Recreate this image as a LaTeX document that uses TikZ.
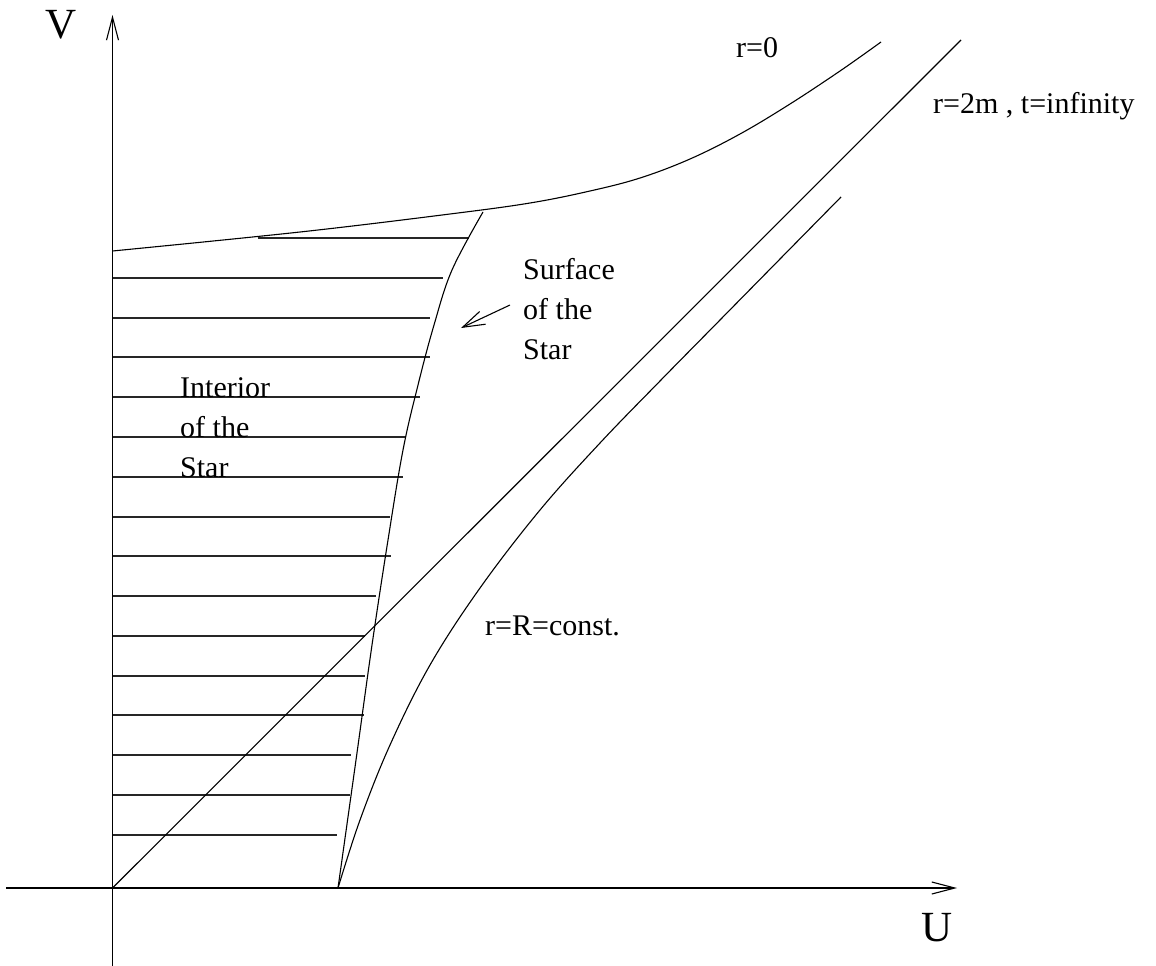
\documentclass[tikz,border=0pt]{standalone}
\usepackage{fontspec}
\setmainfont{Liberation Serif}
\usetikzlibrary{arrows.meta}
\begin{document}
\begin{tikzpicture}[x=1pt,y=-1pt,
  line/.style={line width=1.1pt, line join=round, line cap=butt},
  hatch/.style={line width=1.2pt, black!85},
  lbl/.style={font=\fontsize{30}{36}\selectfont, inner sep=0pt, anchor=base west},
  axlbl/.style={font=\fontsize{43}{50}\selectfont, inner sep=0pt},
  axarrow/.style={-{Straight Barb[length=23pt,width=12pt,line width=1.1pt]}},
  ptarrow/.style={-{Straight Barb[length=22pt,width=14pt,line width=1.1pt]}},
]
\useasboundingbox (0,0) rectangle (1156,966);
% axes
\coordinate (vbot) at (112.5,966);
\coordinate (vtop) at (112.5,15);
\coordinate (uleft) at (6,888);
\coordinate (uright) at (957,888);
\coordinate (o) at (112.5,888);
\coordinate (s0) at (338,888);
\coordinate (ua) at (86,888);
\coordinate (ub) at (391,888);
\draw[line, axarrow] (vbot) -- (vtop);
\draw[line, axarrow] (uleft) -- (uright);
\draw[line width=1.7pt] (ua) -- (ub);
\node[axlbl] (V) at (61.5,25) {V};
\node[axlbl] (U) at (937,927.5) {U};
% hatching
\foreach \y/\xs/\xe in {238/258/469, 278/112.5/443, 318/112.5/430, 357/112.5/430,
  397/112.5/420, 437/112.5/405, 477/112.5/403, 517/112.5/390, 556/112.5/391,
  596/112.5/376, 636/112.5/365, 676/112.5/365, 715/112.5/364, 755/112.5/351,
  795/112.5/350, 835/112.5/337}
  \draw[hatch] (\xs,\y) -- (\xe,\y);
% r=0 curve
\draw[line] plot[smooth, tension=0.6] coordinates {(112.5,251) (300,232) (450,214) (530,203) (590,191) (640,178) (690,159) (740,134) (790,104) (840,71) (881,42)};
% r=2m diagonal
\coordinate (dtop) at (961,40);
\draw[line] (o) -- (dtop);
% surface of the star
\draw[line] plot[smooth, tension=0.6] coordinates {(338,888) (356,760) (372,645) (388,540) (403,450) (418,385) (434,325) (452,270) (483,212)};
% r=R=const
\draw[line] plot[smooth, tension=0.6] coordinates {(338,888) (360,820) (390,745) (430,665) (480,588) (540,510) (600,443) (660,381) (720,320) (780,259) (841,197)};
% labels
\node[lbl] (r0) at (736,57) {r=0};
\node[lbl] (r2m) at (933,113) {r=2m , t=infinity};
\node[lbl] (sf1) at (523,279) {Surface};
\node[lbl] (sf2) at (523,319) {of the};
\node[lbl] (sf3) at (523,359) {Star};
\node[lbl] (in1) at (180,397) {Interior};
\node[lbl] (in2) at (180,437) {of the};
\node[lbl] (in3) at (180,477) {Star};
\node[lbl] (rR) at (485,635) {r=R=const.};
% pointer arrow
\coordinate (pa) at (510,305);
\coordinate (pb) at (461,328);
\draw[line, ptarrow] (pa) -- (pb);
\end{tikzpicture}
\end{document}
